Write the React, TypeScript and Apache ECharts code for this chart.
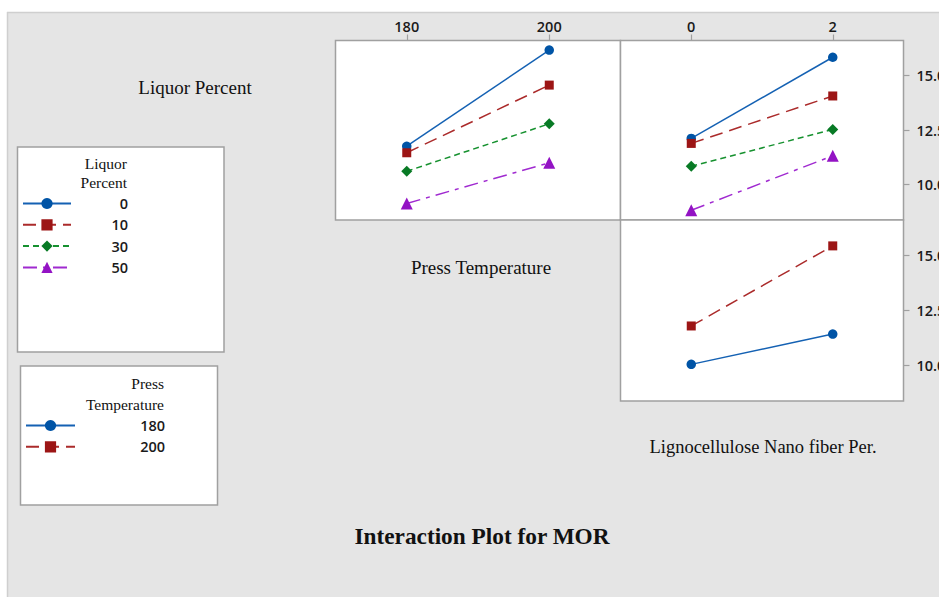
import React, { useEffect, useRef } from 'react';
import * as echarts from 'echarts';

// ---- data ----
const pressTemps = ['180', '200'];
const nanoFiberLevels = ['0', '2'];
const liquorLevels = ['0', '10', '30', '50'];
// mean MOR for each liquor level at press temperature 180 / 200
const liquorByPress = [
  [11.76, 16.18],
  [11.46, 14.57],
  [10.61, 12.79],
  [9.13, 11.0],
];
// mean MOR for each liquor level at nano fiber 0 / 2
const liquorByNano = [
  [12.12, 15.85],
  [11.89, 14.07],
  [10.84, 12.53],
  [8.82, 11.32],
];
// mean MOR for each press temperature at nano fiber 0 / 2
const pressByNano = [
  [10.04, 11.42],
  [11.79, 15.44],
];
const yTicks = [10, 12.5, 15];
const yMin = 8.37;
const yMax = 16.62;

const seriesStyles = [
  { color: '#0054a6', line: '#1461b3', symbol: 'circle', size: 9.5, type: 'solid' as any },
  { color: '#9c1515', line: '#ab2b2b', symbol: 'rect', size: 9, type: [13, 7] },
  { color: '#087a25', line: '#16912f', symbol: 'diamond', size: 11, type: [6, 4] },
  { color: '#9313c4', line: '#a02ad0', symbol: 'triangle', size: 12, type: [14, 6, 4, 6] },
];

const SERIF = "'Liberation Serif', 'Times New Roman', serif";
const SANS = "'Open Sans', 'Noto Sans', sans-serif";
const GRAY = '#a0a0a0';
const NUM_SIZE = 14.5;

function mkSeries(name: string, data: number[], axis: number, st: any) {
  return {
    type: 'line',
    name,
    data,
    xAxisIndex: axis,
    yAxisIndex: axis,
    symbol: st.symbol,
    symbolSize: st.size,
    showSymbol: true,
    silent: true,
    itemStyle: { color: st.color },
    lineStyle: { color: st.line, width: 1.5, type: st.type },
    emphasis: { disabled: true },
    z: 3,
  };
}

function xAxis(gridIndex: number, data: string[], showLabels: boolean) {
  return {
    gridIndex,
    type: 'category',
    data,
    position: 'top',
    boundaryGap: true,
    axisLine: { show: false },
    axisTick: {
      show: showLabels,
      alignWithLabel: true,
      length: 6,
      lineStyle: { color: GRAY, width: 1.2 },
    },
    axisLabel: {
      show: showLabels,
      margin: 7,
      fontSize: NUM_SIZE,
      fontWeight: 600,
      fontFamily: SANS,
      color: '#1a1a1a',
    },
    splitLine: { show: false },
  };
}

function yAxis(gridIndex: number, show: boolean) {
  return {
    gridIndex,
    type: 'value',
    position: 'right',
    min: yMin,
    max: yMax,
    show,
    axisLine: { show: false },
    axisTick: {
      show: true,
      length: 6,
      customValues: yTicks,
      lineStyle: { color: GRAY, width: 1.2 },
    },
    axisLabel: {
      show: true,
      customValues: yTicks,
      margin: 13,
      align: 'left',
      fontSize: NUM_SIZE,
      fontWeight: 600,
      fontFamily: SANS,
      color: '#1a1a1a',
      formatter: (v: number) => v.toFixed(1),
    },
    splitLine: { show: false },
  };
}

function txt(text: string, x: number, y: number, size: number, align = 'center', weight: any = 'normal') {
  return {
    type: 'text',
    x,
    y,
    z: 5,
    style: {
      text,
      fontSize: size,
      fontFamily: SERIF,
      fontWeight: weight,
      fill: '#111',
      textAlign: align,
      align,
      textVerticalAlign: 'middle',
      verticalAlign: 'middle',
    },
  };
}

function legendCfg(names: string[], left: number, top: number, iconW: number, textW: number) {
  return {
    data: names,
    orient: 'vertical',
    left,
    top,
    padding: 0,
    itemWidth: iconW,
    itemHeight: 14,
    itemGap: 6.3,
    selectedMode: false,
    formatter: (n: string) => `{v|${n}}`,
    textStyle: {
      rich: {
        v: {
          width: textW,
          align: 'right',
          fontSize: NUM_SIZE,
          fontWeight: 600,
          fontFamily: SANS,
          color: '#1a1a1a',
          lineHeight: 14,
        },
      },
    },
  };
}

export default function App() {
  const ref = useRef<HTMLDivElement>(null);
  useEffect(() => {
    if (!ref.current) return;
    const chart = echarts.init(ref.current, undefined, { renderer: 'svg' });
    const series: any[] = [];
    liquorLevels.forEach((lv, i) => series.push(mkSeries(lv, liquorByPress[i], 0, seriesStyles[i])));
    liquorLevels.forEach((lv, i) => series.push(mkSeries(lv, liquorByNano[i], 1, seriesStyles[i])));
    pressTemps.forEach((pt, i) => series.push(mkSeries(pt, pressByNano[i], 2, seriesStyles[i])));

    const gridBase = {
      show: true,
      backgroundColor: '#ffffff',
      borderColor: GRAY,
      borderWidth: 1.5,
      containLabel: false,
      outerBoundsMode: 'none',
    };

    chart.setOption({
      animation: false,
      backgroundColor: '#ffffff',
      grid: [
        { ...gridBase, left: 335.5, top: 40.5, width: 285, height: 179.5 },
        { ...gridBase, left: 620.5, top: 40.5, width: 283, height: 179.5 },
        { ...gridBase, left: 620.5, top: 220, width: 283, height: 181 },
      ],
      xAxis: [
        xAxis(0, pressTemps, true),
        xAxis(1, nanoFiberLevels, true),
        xAxis(2, nanoFiberLevels, false),
      ],
      yAxis: [yAxis(0, false), yAxis(1, true), yAxis(2, true)],
      legend: [
        legendCfg(liquorLevels, 22, 196, 48, 52),
        legendCfg(pressTemps, 25, 418, 49, 85),
      ],
      graphic: {
        elements: [
          { type: 'rect', z: -100, shape: { x: 7, y: 12, width: 940, height: 590 }, style: { fill: '#e5e5e5' } },
          { type: 'line', z: -99, shape: { x1: 7, y1: 12.5, x2: 939, y2: 12.5 }, style: { stroke: '#cfcfcf', lineWidth: 1.5 } },
          { type: 'line', z: -99, shape: { x1: 7.5, y1: 12, x2: 7.5, y2: 597 }, style: { stroke: '#cfcfcf', lineWidth: 1.5 } },
          { type: 'rect', z: 1, shape: { x: 17.5, y: 147, width: 206.5, height: 205 }, style: { fill: '#ffffff', stroke: GRAY, lineWidth: 1.5 } },
          { type: 'rect', z: 1, shape: { x: 20.5, y: 366, width: 197, height: 139 }, style: { fill: '#ffffff', stroke: GRAY, lineWidth: 1.5 } },
          txt('Liquor', 127, 163, 15.5, 'right'),
          txt('Percent', 127, 182.5, 15.5, 'right'),
          txt('Press', 164, 383.5, 15.5, 'right'),
          txt('Temperature', 164, 404, 15.5, 'right'),
          txt('Liquor Percent', 195, 87, 19),
          txt('Press Temperature', 481, 267, 19),
          txt('Lignocellulose Nano fiber Per.', 763, 447, 18.5),
          txt('Interaction Plot for MOR', 482, 536, 23.3, 'center', 'bold'),
        ],
      },
      series,
    });
    return () => chart.dispose();
  }, []);
  return (
    <div
      ref={ref}
      style={{ position: 'fixed', left: 0, top: 0, width: 939, height: 597 }}
    />
  );
}
